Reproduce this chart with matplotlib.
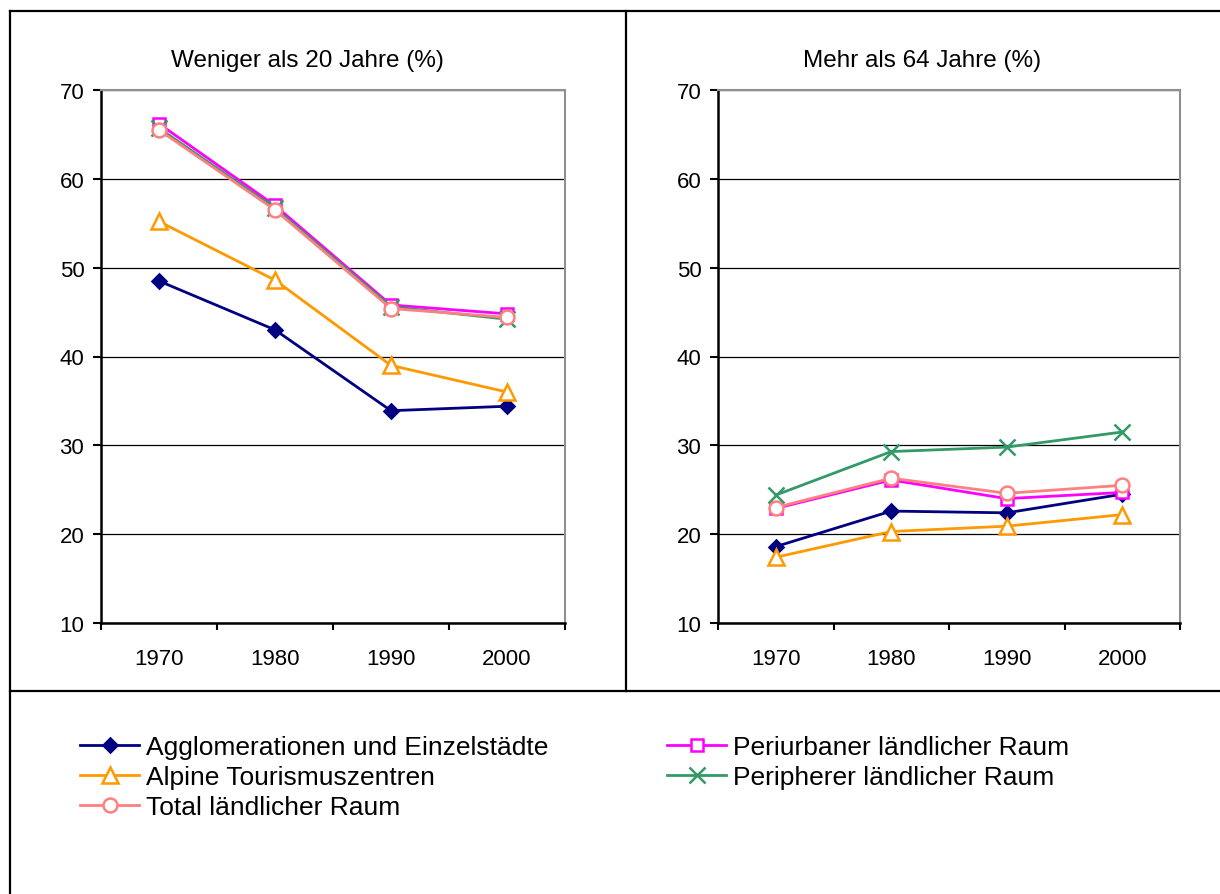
import numpy as np
import matplotlib
matplotlib.use("Agg")
import matplotlib.pyplot as plt
from matplotlib.lines import Line2D

plt.rcParams['font.family'] = ['Liberation Sans', 'DejaVu Sans']

# ==== DATEN ====
jahre = ["1970", "1980", "1990", "2000"]

# Weniger als 20 Jahre (%)
jung_agglo = [48.5, 43.0, 33.9, 34.4]
jung_alpin = [55.2, 48.6, 39.0, 36.0]
jung_periurban = [66.2, 57.0, 45.8, 44.8]
jung_peripher = [65.7, 56.7, 45.6, 44.2]
jung_total = [65.5, 56.5, 45.4, 44.4]

# Mehr als 64 Jahre (%)
alt_agglo = [18.6, 22.6, 22.4, 24.5]
alt_alpin = [17.4, 20.3, 20.9, 22.2]
alt_periurban = [22.9, 26.1, 24.0, 24.7]
alt_peripher = [24.4, 29.3, 29.8, 31.5]
alt_total = [23.0, 26.3, 24.6, 25.5]

namen = ["Agglomerationen und Einzelstädte", "Alpine Tourismuszentren",
         "Periurbaner ländlicher Raum", "Peripherer ländlicher Raum",
         "Total ländlicher Raum"]

stile = [
    dict(color="#000080", marker="D", ms=7, mfc="#000080", mec="#000080"),
    dict(color="#FF9900", marker="^", ms=11, mfc="white", mec="#FF9900"),
    dict(color="#FF00FF", marker="s", ms=9, mfc="white", mec="#FF00FF"),
    dict(color="#339966", marker="x", ms=11, mfc="none", mec="#339966"),
    dict(color="#FF8080", marker="o", ms=10, mfc="white", mec="#FF8080"),
]

W, H = 1220, 895
fig = plt.figure(figsize=(W / 100, H / 100), dpi=100)


def px(x0, y0, x1, y1):
    return [x0 / W, 1 - y1 / H, (x1 - x0) / W, (y1 - y0) / H]


def panel(rect, reihen, titel, tx):
    ax = fig.add_axes(rect)
    x = np.arange(len(jahre))
    handles = []
    for werte, st, name in zip(reihen, stile, namen):
        h, = ax.plot(x, werte, lw=2, mew=1.8, label=name, **st)
        handles.append(h)
    ax.set_xlim(-0.5, 3.5)
    ax.set_ylim(10, 70)
    ax.set_yticks(range(10, 71, 10))
    ax.set_xticks(np.arange(-0.5, 4), labels=[""] * 5)
    ax.set_xticks(x, labels=jahre, minor=True)
    ax.tick_params(axis="x", which="minor", length=0, pad=18, labelsize=16)
    ax.tick_params(axis="x", which="major", length=5, width=1.5)
    ax.tick_params(axis="y", length=6, width=1.5, labelsize=16, pad=6)
    ax.grid(axis="y", color="black", lw=0.9)
    ax.set_axisbelow(True)
    for s in ["left", "bottom"]:
        ax.spines[s].set_linewidth(1.8)
    for s in ["top", "right"]:
        ax.spines[s].set_color("#909090")
        ax.spines[s].set_linewidth(1.5)
    fig.text(tx / W, 1 - 61 / H, titel, ha="center", va="center", fontsize=17.5)
    return handles


handles = panel(px(101, 91, 565, 624),
                [jung_agglo, jung_alpin, jung_periurban, jung_peripher, jung_total],
                "Weniger als 20 Jahre (%)", 307)
panel(px(718, 91, 1180, 624),
      [alt_agglo, alt_alpin, alt_periurban, alt_peripher, alt_total],
      "Mehr als 64 Jahre (%)", 922)

# Rahmen
def linie(x0, y0, x1, y1):
    fig.add_artist(Line2D([x0 / W, x1 / W], [1 - y0 / H, 1 - y1 / H],
                          color="black", lw=1.6, transform=fig.transFigure))

linie(10, 12, W, 12)
linie(10, 12, 10, H)
linie(626, 12, 626, 692)
linie(10, 692, W, 692)

ordnung = [0, 1, 4, 2, 3]
fig.legend([handles[i] for i in ordnung], [namen[i] for i in ordnung],
           loc="upper left", bbox_to_anchor=(80 / W, 1 - 736 / H), ncol=2,
           frameon=False, fontsize=19, borderpad=0, borderaxespad=0,
           handlelength=2.25, handletextpad=0.25, columnspacing=4.5,
           labelspacing=0.23)

fig.savefig("out.png", dpi=100)
